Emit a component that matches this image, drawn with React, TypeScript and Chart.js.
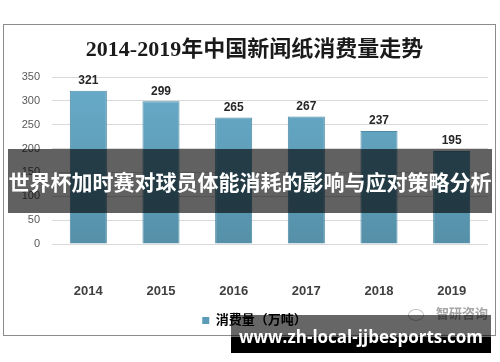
import React, { useEffect, useRef } from "react";
import { Chart, registerables } from "chart.js";

Chart.register(...registerables);

const chartTitle = "2014-2019年中国新闻纸消费量走势";
const categories = ["2014", "2015", "2016", "2017", "2018", "2019"];
const seriesName = "消费量（万吨）";
const consumption = [321, 299, 265, 267, 237, 195];
const yMin = 0;
const yMax = 350;
const yStep = 50;
const bannerText = "世界杯加时赛对球员体能消耗的影响与应对策略分析";
const watermarkText = "www.zh-local-jjbesports.com";
const sourceLogoText = "智研咨询";

const CJK = "'Liberation Sans', 'Noto Sans CJK SC', sans-serif";
const TITLE_FONT = "'Liberation Serif', 'Noto Sans CJK SC', serif";

const valueLabelPlugin = {
  id: "valueLabels",
  afterDatasetsDraw(chart: any) {
    const ctx = chart.ctx;
    const meta = chart.getDatasetMeta(0);
    const data = chart.data.datasets[0].data;
    ctx.save();
    ctx.font = "bold 12px 'Liberation Sans', sans-serif";
    ctx.fillStyle = "#262626";
    ctx.textAlign = "center";
    ctx.textBaseline = "bottom";
    meta.data.forEach((bar: any, i: number) => {
      ctx.fillText(String(data[i]), bar.x, bar.y - 4);
    });
    ctx.restore();
  },
};

export default function App() {
  const canvasRef = useRef<HTMLCanvasElement | null>(null);

  useEffect(() => {
    if (!canvasRef.current) return;
    const chart = new Chart(canvasRef.current, {
      type: "bar",
      data: {
        labels: categories,
        datasets: [
          {
            label: seriesName,
            data: consumption,
            backgroundColor: (c: any) => {
              const ch = c.chart;
              const area = ch.chartArea;
              if (!area) return "#60a0bf";
              const g = ch.ctx.createLinearGradient(0, area.top, 0, area.bottom);
              g.addColorStop(0, "#68acca");
              g.addColorStop(1, "#5590a8");
              return g;
            },
            borderColor: "#4f8aa5",
            borderWidth: 1,
            categoryPercentage: 1,
            barPercentage: 0.51,
          },
        ],
      },
      options: {
        responsive: false,
        animation: false,
        layout: { padding: { left: 17, right: 6, top: 0, bottom: -3 } },
        plugins: {
          title: {
            display: true,
            text: chartTitle,
            color: "#1a1a1a",
            font: { family: TITLE_FONT, size: 22, weight: "bold" },
            padding: { top: 12, bottom: 13.6 },
          },
          legend: {
            display: true,
            position: "bottom",
            labels: {
              boxWidth: 7,
              boxHeight: 7,
              padding: 4,
              color: "#404040",
              font: { family: CJK, size: 13, weight: "bold" },
              generateLabels: () => [
                {
                  text: seriesName,
                  fillStyle: "#5b9bb8",
                  strokeStyle: "#5b9bb8",
                  lineWidth: 0,
                  datasetIndex: 0,
                },
              ],
            },
          },
          tooltip: { enabled: false },
        },
        scales: {
          x: {
            grid: { display: false, drawTicks: false },
            border: { display: false },
            ticks: {
              color: "#404040",
              padding: 40,
              font: { family: "'Liberation Sans', sans-serif", size: 13, weight: "bold" },
            },
            afterFit: (s: any) => {
              s.height = 66;
              s.paddingLeft = 0;
              s.paddingRight = 0;
            },
          },
          y: {
            min: yMin,
            max: yMax,
            ticks: {
              stepSize: yStep,
              color: "#595959",
              padding: 12,
              font: { family: "'Liberation Sans', sans-serif", size: 11 },
            },
            grid: { color: "#d9d9d9", drawTicks: false },
            border: { display: false },
            afterFit: (s: any) => {
              s.width = 31;
            },
          },
        },
      },
      plugins: [valueLabelPlugin],
    });
    return () => chart.destroy();
  }, []);

  return (
    <div
      style={{
        position: "fixed",
        left: 0,
        top: 0,
        width: 500,
        height: 362,
        background: "#ffffff",
        overflow: "hidden",
      }}
    >
      <div
        style={{
          position: "absolute",
          left: 3,
          top: 24,
          width: 491,
          height: 310,
          border: "1px solid #8c8c8c",
          background: "#fff",
        }}
      />
      <canvas
        ref={canvasRef}
        width={490}
        height={309}
        style={{ position: "absolute", left: 4, top: 25, width: 490, height: 309 }}
      />
      <div
        style={{
          position: "absolute",
          left: 408,
          top: 303,
          color: "#a6a6a6",
          fontFamily: CJK,
          fontSize: 13,
          fontWeight: "bold",
          whiteSpace: "nowrap",
        }}
      >
        <span
          style={{
            display: "inline-block",
            width: 14,
            height: 10,
            border: "1px solid #c0c0c0",
            borderRadius: "50%",
            marginRight: 12,
            verticalAlign: "middle",
          }}
        />
        {sourceLogoText}
      </div>
      <div
        style={{
          position: "absolute",
          left: 8,
          top: 149,
          width: 484,
          height: 64,
          background: "rgba(0,0,0,0.62)",
          color: "#ffffff",
          fontFamily: "'Noto Sans CJK SC', sans-serif",
          fontWeight: "bold",
          fontSize: 21,
          lineHeight: "64px",
          textAlign: "center",
          whiteSpace: "nowrap",
        }}
      >
        {bannerText}
      </div>
      <div
        style={{
          position: "absolute",
          left: 231,
          top: 315,
          width: 260,
          height: 22,
          background: "rgba(0,0,0,0.6)",
        }}
      />
      <div
        style={{
          position: "absolute",
          left: 231,
          top: 337,
          width: 260,
          height: 16,
          background: "#000000",
        }}
      />
      <div
        style={{
          position: "absolute",
          left: 231,
          top: 315,
          width: 260,
          height: 38,
          color: "#ffffff",
          fontFamily: "'Open Sans', 'DejaVu Sans', sans-serif",
          fontWeight: "bold",
          fontSize: 17,
          lineHeight: "44px",
          textAlign: "center",
          whiteSpace: "nowrap",
        }}
      >
        {watermarkText}
      </div>
    </div>
  );
}
